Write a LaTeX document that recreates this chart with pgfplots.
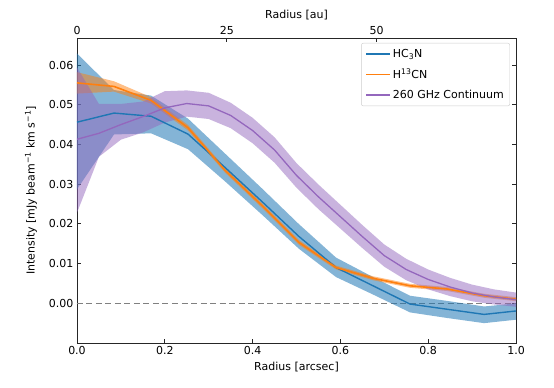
\documentclass[border=0pt]{standalone}
\usepackage{fontspec}
\setmainfont{DejaVu Sans}
\usepackage{pgfplots}
\pgfplotsset{compat=1.18}

\definecolor{cblue}{HTML}{1F77B4}
\definecolor{corange}{HTML}{FF7F0E}
\definecolor{cpurple}{HTML}{9467BD}

\pgfplotsset{
  common/.style={
    scale only axis, width=439pt, height=305pt,
    tick align=inside, major tick length=4pt,
    tick style={black!85, line width=0.8pt},
    axis line style={black!85, line width=0.9pt},
    /pgf/number format/assume math mode=true,
    ticklabel style={font=\fontsize{11}{13}\selectfont},
    label style={font=\fontsize{11}{13}\selectfont},
  },
}

\begin{document}
\begin{tikzpicture}[font=\fontsize{11}{13}\selectfont]
\begin{axis}[
  common,
  xmin=0, xmax=1, ymin=-0.01, ymax=0.0668,
  scaled y ticks=false, scaled x ticks=false,
  xtick={0,0.2,0.4,0.6,0.8,1}, xtick pos=left,
  ytick={0,0.01,0.02,0.03,0.04,0.05,0.06}, ytick pos=both, yticklabel pos=left,
  xticklabel style={/pgf/number format/fixed, /pgf/number format/fixed zerofill, /pgf/number format/precision=1},
  yticklabel style={/pgf/number format/fixed, /pgf/number format/fixed zerofill, /pgf/number format/precision=2},
  xlabel={Radius [arcsec]},
  ylabel={Intensity [mJy beam\textsuperscript{−1} km s\textsuperscript{−1}]},
  x label style={at={(axis description cs:0.5,0)}, anchor=center, yshift=-24pt},
  y label style={at={(axis description cs:-0.1048,0.5)}, anchor=center},
  legend style={at={(rel axis cs:0.9863,0.9836)}, anchor=north east,
    draw=black!20, rounded corners=2pt, inner xsep=4pt, inner ysep=4pt,
    row sep=6pt, font=\fontsize{11}{13}\selectfont},
  legend cell align=left,
  legend image code/.code={\draw[#1, line width=1.5pt] (0pt,0pt) -- (24pt,0pt);},
]
% zero level
\addplot[forget plot, black!50, line width=1.4pt, dash pattern=on 6pt off 3.5pt] coordinates {(0,0) (1,0)};

% uncertainty bands: upper edge left to right, lower edge back
\addplot[forget plot, draw=none, fill=cblue, fill opacity=0.55] coordinates {
  (0,0.0629) (0.0843,0.0537) (0.1686,0.0523) (0.2529,0.0465) (0.3372,0.0377)
  (0.4215,0.0289) (0.5058,0.0199) (0.5901,0.0115) (0.6744,0.0066) (0.7587,0.0019)
  (0.843,0.0006) (0.9273,-0.0008) (1.0116,0.0001)
  (1.0116,-0.0040) (0.9273,-0.0050) (0.843,-0.0037) (0.7587,-0.0023) (0.6744,0.0022)
  (0.5901,0.0066) (0.5058,0.0137) (0.4215,0.0223) (0.3372,0.0307) (0.2529,0.0388)
  (0.1686,0.0428) (0.0843,0.0425) (0,0.0287)};
\addplot[forget plot, draw=none, fill=corange, fill opacity=0.5] coordinates {
  (0,0.0582) (0.0843,0.0559) (0.1686,0.0519) (0.2529,0.0449) (0.3372,0.0341)
  (0.4215,0.0252) (0.5058,0.0159) (0.5901,0.0095) (0.6744,0.0068) (0.7587,0.0049)
  (0.843,0.0041) (0.9273,0.0024) (1.0116,0.0014)
  (1.0116,0.0004) (0.9273,0.0014) (0.843,0.0031) (0.7587,0.0039) (0.6744,0.0058)
  (0.5901,0.0085) (0.5058,0.0147) (0.4215,0.0240) (0.3372,0.0329) (0.2529,0.0435)
  (0.1686,0.0503) (0.0843,0.0533) (0,0.0528)};
\addplot[forget plot, draw=none, fill=cpurple, fill opacity=0.5] coordinates {
  (0,0.0594) (0.05,0.0502) (0.10,0.0502) (0.15,0.0508) (0.20,0.0534) (0.25,0.0536)
  (0.30,0.0530) (0.35,0.0505) (0.40,0.0467) (0.45,0.0418) (0.50,0.0353) (0.55,0.0299)
  (0.60,0.0248) (0.65,0.0197) (0.70,0.0148) (0.75,0.0112) (0.80,0.0085) (0.85,0.0064)
  (0.90,0.0047) (0.95,0.0035) (1.00,0.0027)
  (1.00,-0.0009) (0.95,-0.0003) (0.90,0.0005) (0.85,0.0018) (0.80,0.0035) (0.75,0.0058)
  (0.70,0.0092) (0.65,0.0139) (0.60,0.0188) (0.55,0.0237) (0.50,0.0291) (0.45,0.0354)
  (0.40,0.0403) (0.35,0.0441) (0.30,0.0464) (0.25,0.0470) (0.20,0.0455) (0.15,0.0430)
  (0.10,0.0412) (0.05,0.0369) (0,0.0228)};

% profiles
\addplot[cblue, line width=1.4pt] coordinates {
  (0,0.0456) (0.0843,0.0479) (0.1686,0.0471) (0.2529,0.0426) (0.3372,0.0342)
  (0.4215,0.0256) (0.5058,0.0168) (0.5901,0.0090) (0.6744,0.0044) (0.7587,-0.0002)
  (0.843,-0.0015) (0.9273,-0.0028) (1.0116,-0.0018)};
\addplot[corange, line width=1.6pt] coordinates {
  (0,0.0555) (0.0843,0.0546) (0.1686,0.0511) (0.2529,0.0442) (0.3372,0.0335)
  (0.4215,0.0246) (0.5058,0.0153) (0.5901,0.0090) (0.6744,0.0063) (0.7587,0.0044)
  (0.843,0.0036) (0.9273,0.0019) (1.0116,0.0009)};
\addplot[cpurple, line width=1.3pt] coordinates {
  (0,0.0413) (0.05,0.0428) (0.10,0.0450) (0.15,0.0470) (0.20,0.0492) (0.25,0.0503)
  (0.30,0.0497) (0.35,0.0473) (0.40,0.0435) (0.45,0.0386) (0.50,0.0322) (0.55,0.0268)
  (0.60,0.0218) (0.65,0.0168) (0.70,0.0120) (0.75,0.0085) (0.80,0.0060) (0.85,0.0041)
  (0.90,0.0026) (0.95,0.0016) (1.00,0.0009)};
\legend{HC\textsubscript{3}N, H\textsuperscript{13}CN, 260 GHz Continuum}
\end{axis}

% second x scale in au along the top
\begin{axis}[
  common,
  xmin=0, xmax=73.24, ymin=0, ymax=1,
  axis x line*=top, hide y axis,
  xtick={0,25,50},
  xlabel={Radius [au]},
  x label style={at={(axis description cs:0.5,1)}, anchor=center, yshift=23pt},
]
\end{axis}

\pgfresetboundingbox
\useasboundingbox (-77pt,-45pt) rectangle (477pt,343pt);
\end{tikzpicture}
\end{document}
